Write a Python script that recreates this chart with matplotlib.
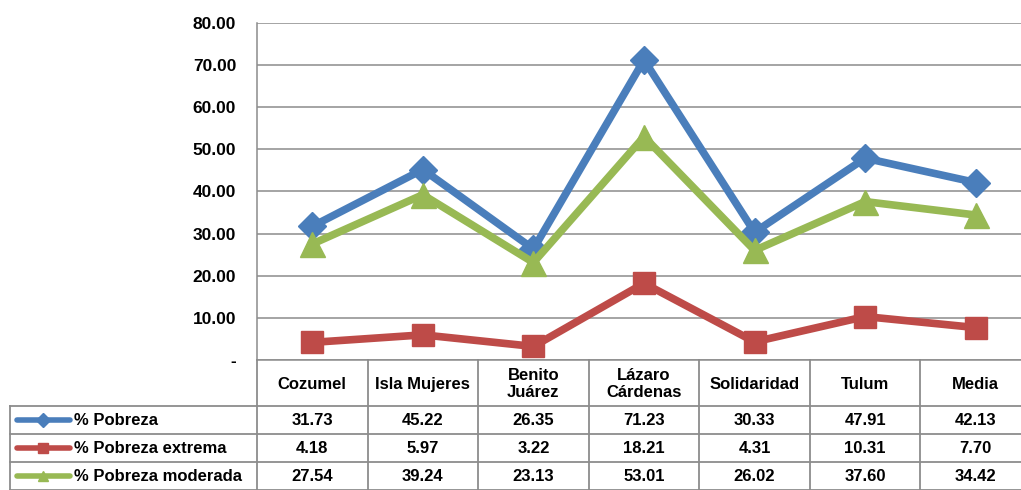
import matplotlib
matplotlib.use("Agg")
import matplotlib.pyplot as plt
from matplotlib.lines import Line2D
from matplotlib.transforms import blended_transform_factory

plt.rcParams['font.family'] = ['Liberation Sans', 'DejaVu Sans']

categories = ["Cozumel", "Isla Mujeres", "Benito\nJuárez", "Lázaro\nCárdenas",
              "Solidaridad", "Tulum", "Media"]
pobreza = [31.73, 45.22, 26.35, 71.23, 30.33, 47.91, 42.13]
extrema = [4.18, 5.97, 3.22, 18.21, 4.31, 10.31, 7.70]
moderada = [27.54, 39.24, 23.13, 53.01, 26.02, 37.60, 34.42]
series_names = ["% Pobreza", "% Pobreza extrema", "% Pobreza moderada"]
yticks = [0, 10, 20, 30, 40, 50, 60, 70, 80]

W, H = 1021, 490
fig = plt.figure(figsize=(W / 100, H / 100), dpi=100)
ax_l, ax_r, ax_t, ax_b = 257, 1031, 23, 360
ax = fig.add_axes([ax_l / W, (H - ax_b) / H, (ax_r - ax_l) / W, (ax_b - ax_t) / H])

colors = ["#4A7EBB", "#BE4B48", "#98B954"]
markers = ["D", "s", "^"]
msizes = [14, 16, 18]
data = [pobreza, extrema, moderada]
x = list(range(len(categories)))
for vals, c, m, ms in zip(data, colors, markers, msizes):
    ax.plot(x, vals, color=c, lw=5.5, marker=m, ms=ms, mec=c, mfc=c, zorder=3,
            clip_on=False, solid_joinstyle='miter')

ax.set_xlim(-0.5, len(categories) - 0.5)
ax.set_ylim(0, 80)
ax.set_yticks(yticks)
ax.set_yticklabels(["-" if v == 0 else f"{v:.2f}" for v in yticks],
                   fontsize=12.5, fontweight='bold')
ax.tick_params(axis='y', length=0, pad=15)
ax.set_xticks([])
grid_c = "#8C8C8C"
ax.yaxis.grid(True, color=grid_c, lw=1.1)
ax.set_axisbelow(True)
for s in ['top', 'right']:
    ax.spines[s].set_visible(False)
for s in ['left', 'bottom']:
    ax.spines[s].set_color(grid_c)
    ax.spines[s].set_linewidth(1.1)

# data table below the plot
tr = blended_transform_factory(ax.transData, ax.transAxes)
def ya(ypix):
    return (ax_b - ypix) / (ax_b - ax_t)

unit = (ax_r - ax_l) / len(categories)
def xd(px):
    return -0.5 + (px - ax_l) / unit

row_edges = [360, 406, 434, 462, 490]
left_x = xd(10)
lkw = dict(color=grid_c, lw=1.3, clip_on=False, transform=tr)
for i in range(len(categories) + 1):
    xe = i - 0.5
    ax.add_line(Line2D([xe, xe], [ya(360), ya(490)], **lkw))
ax.add_line(Line2D([left_x, left_x], [ya(406), ya(490)], **lkw))
for ye in row_edges[1:]:
    ax.add_line(Line2D([left_x, len(categories) - 0.5], [ya(ye), ya(ye)], **lkw))

tkw = dict(fontsize=12, fontweight='bold', ha='center', va='center',
           transform=tr, clip_on=False, linespacing=1.1)
for i, cat in enumerate(categories):
    ax.text(i, ya(384), cat, **tkw)
for r, vals in enumerate(data):
    yc = ya((row_edges[r + 1] + row_edges[r + 2]) / 2)
    for i, v in enumerate(vals):
        ax.text(i, yc, f"{v:.2f}", **tkw)

# legend keys in the table
for r, (name, c, m) in enumerate(zip(series_names, colors, markers)):
    yc = ya((row_edges[r + 1] + row_edges[r + 2]) / 2)
    ax.add_line(Line2D([xd(17), xd(70)], [yc, yc], color=c, lw=4,
                       clip_on=False, transform=tr, solid_capstyle='round'))
    ax.add_line(Line2D([xd(43)], [yc], color=c, marker=m, ms=7, mec=c, mfc=c,
                       clip_on=False, transform=tr))
    ax.text(xd(74), yc, name, fontsize=12, fontweight='bold', ha='left',
            va='center', transform=tr, clip_on=False)

fig.savefig("out.png", dpi=100)
